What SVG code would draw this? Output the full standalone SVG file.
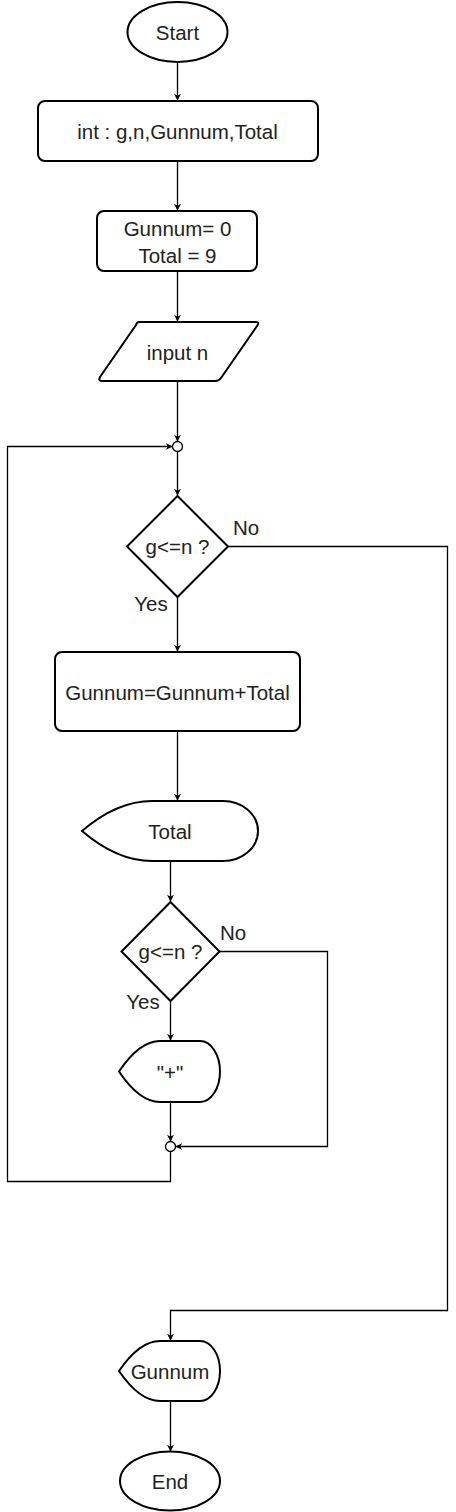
<svg xmlns="http://www.w3.org/2000/svg" width="456" height="1512" viewBox="0 0 456 1512">
<style>
.s{fill:#fff;stroke:#000;stroke-width:2}
.c{fill:none;stroke:#000;stroke-width:1.3}
.t{font-family:"Liberation Sans",Arial,sans-serif;font-size:20.5px;fill:#222;text-anchor:middle;dominant-baseline:central}
</style>
<defs>
<marker id="a" viewBox="0 0 10 10" refX="9" refY="5" markerWidth="7" markerHeight="7" orient="auto" markerUnits="userSpaceOnUse">
<path d="M0,0 L10,5 L0,10 L3,5 Z" fill="#000"/>
</marker>
</defs>
<g id="connectors">
<path class="c" d="M177.5,62 V100" marker-end="url(#a)"/>
<path class="c" d="M177.5,161 V210" marker-end="url(#a)"/>
<path class="c" d="M177.5,271 V321" marker-end="url(#a)"/>
<path class="c" d="M177.5,381 V441" marker-end="url(#a)"/>
<path class="c" d="M177.5,451 V495" marker-end="url(#a)"/>
<path class="c" d="M177.5,597 V651" marker-end="url(#a)"/>
<path class="c" d="M228,546.5 H447.5 V1310.5 H170.5 V1340" marker-end="url(#a)"/>
<path class="c" d="M177.5,731 V800" marker-end="url(#a)"/>
<path class="c" d="M170.5,861 V901" marker-end="url(#a)"/>
<path class="c" d="M170.5,1001 V1040" marker-end="url(#a)"/>
<path class="c" d="M219,951.5 H327.5 V1146.5 H176" marker-end="url(#a)"/>
<path class="c" d="M170.5,1101 V1141" marker-end="url(#a)"/>
<path class="c" d="M170.5,1151 V1181.5 H7.5 V446.5 H172" marker-end="url(#a)"/>
<path class="c" d="M170.5,1401 V1451" marker-end="url(#a)"/>
</g>
<g id="start">
<ellipse class="s" cx="177.5" cy="32" rx="50" ry="30"/>
<text class="t" x="177.5" y="32">Start</text>
</g>
<g id="decl">
<rect class="s" x="38" y="101" width="280" height="60" rx="7"/>
<text class="t" x="177.5" y="131">int : g,n,Gunnum,Total</text>
</g>
<g id="init">
<rect class="s" x="97" y="211" width="160" height="60" rx="7"/>
<text class="t" x="177.5" y="228">Gunnum= 0</text>
<text class="t" x="177.5" y="255">Total = 9</text>
</g>
<g id="input">
<path class="s" stroke-linejoin="round" d="M139,322 H256 Q260,322 257,326 L221,378 Q219,381 215,381 H102 Q98,381 100,377 L136,325 Q137,322 139,322 Z"/>
<text class="t" x="177.5" y="352">input n</text>
</g>
<g id="j1">
<circle cx="177.5" cy="446.5" r="5" fill="#fff" stroke="#000" stroke-width="1.3"/>
</g>
<g id="cond1">
<path class="s" d="M177.5,496 L228,546.5 L177.5,597 L127,546.5 Z"/>
<text class="t" x="177.5" y="546.5">g&lt;=n ?</text>
<text class="t" x="246" y="527">No</text>
<text class="t" x="151" y="603">Yes</text>
</g>
<g id="calc">
<rect class="s" x="55" y="652" width="245" height="79" rx="7"/>
<text class="t" x="177.5" y="692">Gunnum=Gunnum+Total</text>
</g>
<g id="outTotal">
<path class="s" d="M82,831 Q117,801 152,801 H223 A35,30 0 0 1 223,861 H152 Q117,861 82,831 Z"/>
<text class="t" x="170" y="831">Total</text>
</g>
<g id="cond2">
<path class="s" d="M170.5,902 L219.5,951.5 L170.5,1001 L121.5,951.5 Z"/>
<text class="t" x="170.5" y="951.5">g&lt;=n ?</text>
<text class="t" x="233" y="932">No</text>
<text class="t" x="143" y="1001">Yes</text>
</g>
<g id="outPlus">
<path class="s" d="M119,1071.5 Q139.5,1041 160,1041 H200 A20,30.5 0 0 1 200,1102 H160 Q139.5,1102 119,1071.5 Z"/>
<text class="t" x="170" y="1072">"+"</text>
</g>
<g id="j2">
<circle cx="170.5" cy="1146.5" r="5" fill="#fff" stroke="#000" stroke-width="1.3"/>
</g>
<g id="outGunnum">
<path class="s" d="M119,1371 Q139.5,1341 160,1341 H200 A20,30 0 0 1 200,1401 H160 Q139.5,1401 119,1371 Z"/>
<text class="t" x="170" y="1371">Gunnum</text>
</g>
<g id="end">
<ellipse class="s" cx="170" cy="1481" rx="50" ry="29.5"/>
<text class="t" x="170" y="1481">End</text>
</g>
</svg>
